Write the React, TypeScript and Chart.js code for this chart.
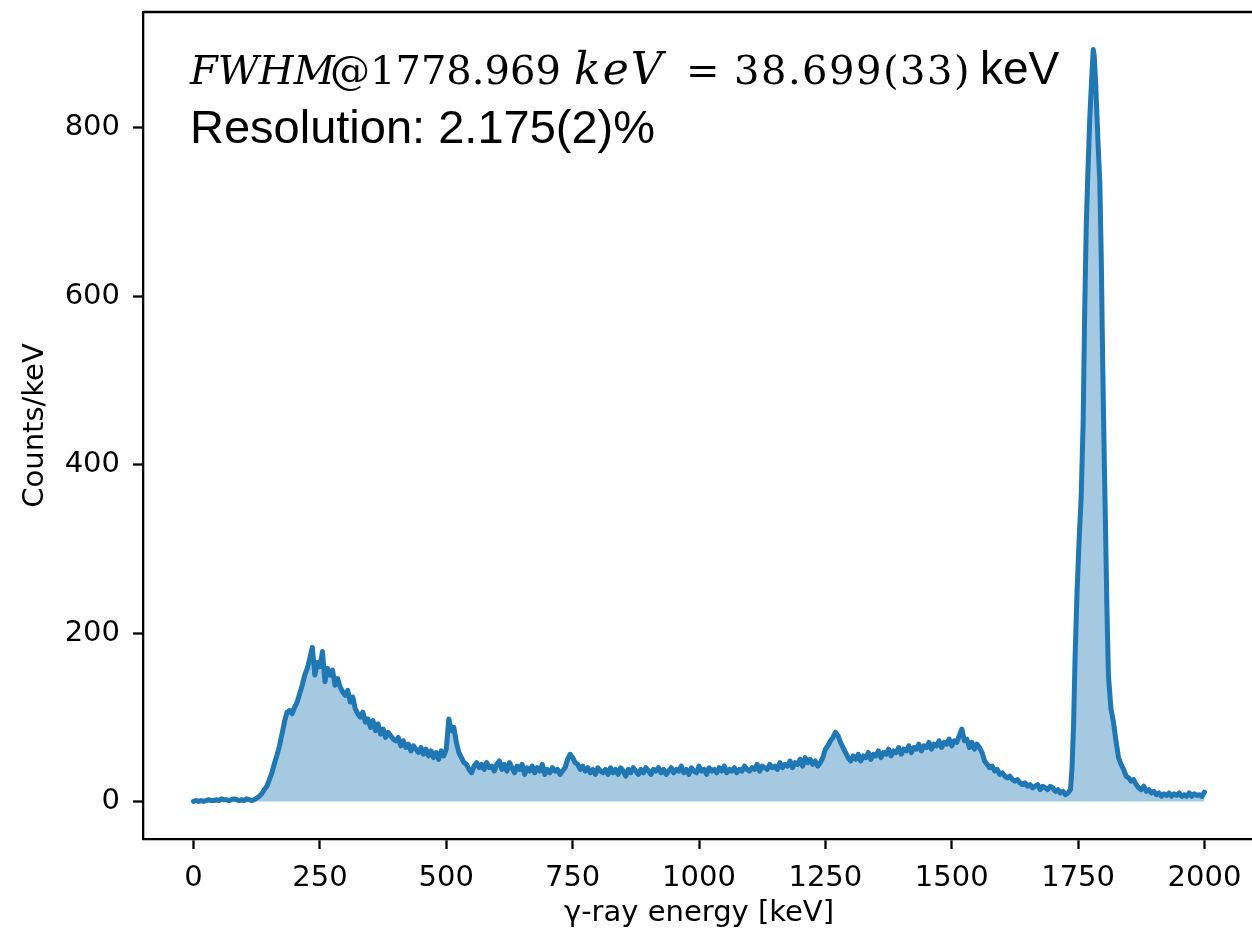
import React, { useEffect, useRef } from "react";
import { Chart, registerables } from "chart.js";

Chart.register(...registerables);

// gamma-ray energy (keV) of each sampled bin
const energies = [
  0, 5, 10, 15, 20, 25, 30, 35, 40, 45, 50, 55, 60, 65, 70, 75, 80, 85, 90, 95,
  100, 105, 110, 115, 120, 125, 130, 135, 140, 145, 150, 155, 160, 165, 170, 175, 180, 185, 190, 195,
  200, 205, 210, 215, 220, 225, 230, 235, 240, 245, 250, 255, 260, 265, 270, 275, 280, 285, 290, 295,
  300, 305, 310, 315, 320, 325, 330, 335, 340, 345, 350, 355, 360, 365, 370, 375, 380, 385, 390, 395,
  400, 405, 410, 415, 420, 425, 430, 435, 440, 445, 450, 455, 460, 465, 470, 475, 480, 485, 490, 495,
  500, 505, 510, 515, 520, 525, 530, 535, 540, 545, 550, 555, 560, 565, 570, 575, 580, 585, 590, 595,
  600, 605, 610, 615, 620, 625, 630, 635, 640, 645, 650, 655, 660, 665, 670, 675, 680, 685, 690, 695,
  700, 705, 710, 715, 720, 725, 730, 735, 740, 745, 750, 755, 760, 765, 770, 775, 780, 785, 790, 795,
  800, 805, 810, 815, 820, 825, 830, 835, 840, 845, 850, 855, 860, 865, 870, 875, 880, 885, 890, 895,
  900, 905, 910, 915, 920, 925, 930, 935, 940, 945, 950, 955, 960, 965, 970, 975, 980, 985, 990, 995,
  1000, 1005, 1010, 1015, 1020, 1025, 1030, 1035, 1040, 1045, 1050, 1055, 1060, 1065, 1070, 1075, 1080, 1085, 1090, 1095,
  1100, 1105, 1110, 1115, 1120, 1125, 1130, 1135, 1140, 1145, 1150, 1155, 1160, 1165, 1170, 1175, 1180, 1185, 1190, 1195,
  1200, 1205, 1210, 1215, 1220, 1225, 1230, 1235, 1240, 1245, 1250, 1255, 1260, 1265, 1270, 1275, 1280, 1285, 1290, 1295,
  1300, 1305, 1310, 1315, 1320, 1325, 1330, 1335, 1340, 1345, 1350, 1355, 1360, 1365, 1370, 1375, 1380, 1385, 1390, 1395,
  1400, 1405, 1410, 1415, 1420, 1425, 1430, 1435, 1440, 1445, 1450, 1455, 1460, 1465, 1470, 1475, 1480, 1485, 1490, 1495,
  1500, 1505, 1510, 1515, 1520, 1525, 1530, 1535, 1540, 1545, 1550, 1555, 1560, 1565, 1570, 1575, 1580, 1585, 1590, 1595,
  1600, 1605, 1610, 1615, 1620, 1625, 1630, 1635, 1640, 1645, 1650, 1655, 1660, 1665, 1670, 1675, 1680, 1685, 1690, 1695,
  1700, 1705, 1710, 1715, 1720, 1725, 1730,
  1735, 1738, 1741, 1744, 1748, 1752, 1756, 1760, 1763, 1766, 1769, 1773, 1777, 1780, 1782, 1785, 1790, 1793, 1796, 1798,
  1800, 1802, 1804, 1807, 1810, 1815, 1820, 1825, 1830, 1835,
  1840, 1845, 1850, 1855, 1860, 1865, 1870, 1875, 1880, 1885, 1890, 1895, 1900, 1905, 1910, 1915, 1920, 1925, 1930, 1935,
  1940, 1945, 1950, 1955, 1960, 1965, 1970, 1975, 1980, 1985, 1990, 1995, 2000,
];

// counts per keV
const counts = [
  0, 1, 0, 1, 0, 1, 2, 1, 1, 2, 1, 3, 2, 2, 1, 2, 3, 2, 1, 2,
  1, 3, 2, 1, 2, 4, 6, 9, 14, 18, 26, 34, 45, 55, 66, 80, 95, 106, 108, 104,
  112, 118, 128, 138, 150, 158, 170, 183, 150, 165, 160, 178, 142, 158, 150, 156, 138, 146, 136, 130,
  126, 132, 118, 124, 110, 104, 100, 106, 94, 98, 88, 96, 84, 92, 80, 86, 76, 82, 78, 74,
  72, 76, 66, 72, 64, 68, 60, 66, 62, 58, 64, 56, 62, 54, 60, 52, 58, 50, 60, 54,
  62, 98, 84, 88, 70, 58, 52, 46, 44, 38, 34, 42, 46, 40, 44, 38, 46, 40, 42, 36,
  44, 48, 38, 44, 36, 46, 40, 34, 42, 38, 44, 32, 40, 36, 42, 34, 40, 36, 44, 32,
  38, 34, 40, 36, 38, 32, 36, 40, 50, 56, 52, 46, 44, 38, 42, 36, 40, 34, 38, 32,
  40, 36, 34, 38, 32, 40, 34, 38, 32, 40, 36, 30, 38, 34, 40, 36, 32, 38, 34, 40,
  36, 32, 38, 36, 40, 34, 38, 32, 36, 40, 34, 38, 36, 42, 34, 38, 32, 40, 36, 34,
  42, 36, 38, 32, 40, 36, 38, 34, 40, 36, 42, 34, 38, 36, 40, 34, 38, 36, 42, 38,
  36, 40, 38, 44, 36, 42, 40, 38, 44, 40, 42, 38, 46, 40, 44, 42, 48, 40, 46, 44,
  50, 42, 52, 46, 50, 44, 48, 42, 46, 52, 62, 66, 72, 76, 82, 78, 70, 64, 58, 52,
  48, 54, 50, 56, 48, 54, 52, 58, 50, 56, 54, 60, 52, 58, 56, 62, 54, 60, 58, 64,
  56, 62, 60, 66, 58, 64, 62, 68, 60, 66, 64, 70, 62, 68, 66, 72, 64, 70, 68, 74,
  66, 72, 70, 78, 86, 72, 74, 64, 70, 62, 68, 64, 58, 48, 44, 40, 42, 36, 38, 32,
  34, 30, 28, 30, 26, 24, 26, 22, 20, 22, 18, 20, 16, 18, 20, 14, 18, 16, 14, 18,
  16, 12, 14, 10, 12, 8, 10,
  14, 40, 90, 170, 250, 310, 360, 450, 580, 680, 740, 810, 860, 893, 885, 850, 775, 735, 640, 550,
  470, 400, 335, 230, 150, 110, 94, 72, 52, 44,
  38, 30, 28, 24, 26, 20, 16, 14, 18, 12, 14, 10, 12, 8, 10, 6, 9, 7, 10, 6,
  9, 7, 10, 6, 8, 6, 10, 6, 9, 7, 8, 6, 11,
];

const xTicks = [0, 250, 500, 750, 1000, 1250, 1500, 1750, 2000];
const yTicks = [0, 200, 400, 600, 800];

const annotationPlugin = {
  id: "annot",
  afterDraw(chart: any) {
    const ctx = chart.ctx;
    const a = chart.chartArea;
    ctx.save();
    ctx.strokeStyle = "#000";
    ctx.lineWidth = 2.3;
    ctx.beginPath();
    ctx.moveTo(a.left, a.top);
    ctx.lineTo(a.right, a.top);
    ctx.lineTo(a.right, a.bottom);
    ctx.stroke();

    ctx.fillStyle = "#000";
    ctx.textBaseline = "alphabetic";
    ctx.textAlign = "left";
    const y1 = 84;
    const segs: [string, string, number, string][] = [
      ["FWHM", "italic 40px 'DejaVu Serif'", 190, "0px"],
      ["@1778.969", "40px 'DejaVu Serif'", 330, "0px"],
      ["keV", "italic 44px 'DejaVu Serif'", 574, "2px"],
      ["=", "40px 'DejaVu Serif'", 686, "0px"],
      ["38.699(33)", "40px 'DejaVu Serif'", 734, "1.5px"],
      ["keV", "46px 'Liberation Sans'", 980, "0px"],
    ];
    for (const [t, f, x, ls] of segs) {
      ctx.font = f;
      (ctx as any).letterSpacing = ls;
      ctx.fillText(t, x, y1);
    }
    (ctx as any).letterSpacing = "0px";
    ctx.font = "47px 'Liberation Sans'";
    ctx.fillText("Resolution: 2.175(2)%", 190, 143);
    ctx.restore();
  },
};

export default function App() {
  const ref = useRef<HTMLCanvasElement>(null);
  useEffect(() => {
    const canvas = ref.current!;
    const data = energies.map((e, i) => ({ x: e, y: counts[i] }));
    const tickFont = { family: "'DejaVu Sans'", size: 29 };
    const chart = new Chart(canvas, {
      type: "line",
      data: {
        datasets: [
          {
            data,
            borderColor: "#1f77b4",
            backgroundColor: "rgba(31,119,180,0.4)",
            borderWidth: 5,
            pointRadius: 0,
            fill: "origin",
            tension: 0,
            borderJoinStyle: "round",
            borderCapStyle: "round",
          },
        ],
      },
      options: {
        animation: false,
        responsive: false,
        maintainAspectRatio: false,
        layout: { padding: { top: 12, right: 7, left: 0, bottom: 0 } },
        plugins: { legend: { display: false }, tooltip: { enabled: false } },
        scales: {
          x: {
            type: "linear",
            min: -100,
            max: 2100,
            afterFit: (s: any) => {
              s.height = 100;
              s.paddingLeft = 0;
              s.paddingRight = 0;
            },
            afterBuildTicks: (s: any) => {
              s.ticks = xTicks.map((v) => ({ value: v }));
            },
            ticks: {
              color: "#000",
              font: tickFont,
              padding: 12,
              maxRotation: 0,
              autoSkip: false,
              callback: (v: any) => String(v),
            },
            grid: {
              drawOnChartArea: false,
              drawTicks: true,
              tickLength: 10,
              tickColor: "#000",
              tickWidth: 2.3,
            },
            border: { display: true, color: "#000", width: 2.3 },
            title: {
              display: true,
              text: "γ-ray energy [keV]",
              color: "#000",
              font: tickFont,
              padding: { top: 0, bottom: 8 },
            },
          },
          y: {
            type: "linear",
            min: -44.65,
            max: 937.6,
            afterFit: (s: any) => {
              s.width = 143;
              s.paddingTop = 0;
              s.paddingBottom = 0;
            },
            afterBuildTicks: (s: any) => {
              s.ticks = yTicks.map((v) => ({ value: v }));
            },
            ticks: {
              color: "#000",
              font: tickFont,
              padding: 13,
              autoSkip: false,
              callback: (v: any) => String(v),
            },
            grid: {
              drawOnChartArea: false,
              drawTicks: true,
              tickLength: 10,
              tickColor: "#000",
              tickWidth: 2.3,
            },
            border: { display: true, color: "#000", width: 2.3 },
            title: {
              display: true,
              text: "Counts/keV",
              color: "#000",
              font: tickFont,
              padding: { top: 18, bottom: 0 },
            },
          },
        },
      },
      plugins: [annotationPlugin],
    });
    return () => chart.destroy();
  }, []);
  return (
    <div style={{ position: "fixed", left: 0, top: 0, width: 1262, height: 939, background: "#fff" }}>
      <canvas ref={ref} width={1262} height={939} style={{ display: "block" }} />
    </div>
  );
}
